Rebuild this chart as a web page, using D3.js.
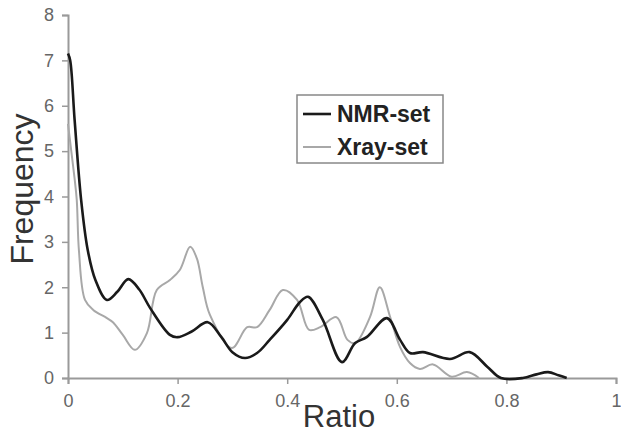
<!DOCTYPE html>
<html>
<head>
<meta charset="utf-8">
<script src="https://cdn.jsdelivr.net/npm/d3@7"></script>
<style>
  html, body { margin: 0; padding: 0; background: #fff; }
  svg { display: block; font-family: "Liberation Sans", Arial, sans-serif; }
</style>
</head>
<body>
<div id="chart"></div>
<script>
// ratio bins
const nmrX = [0, 0.004, 0.012, 0.024, 0.036, 0.05, 0.071, 0.09, 0.11, 0.13, 0.15, 0.186, 0.2, 0.225, 0.255, 0.28, 0.30, 0.323, 0.345, 0.368, 0.40, 0.423, 0.438, 0.465, 0.50, 0.524, 0.545, 0.582, 0.606, 0.624, 0.648, 0.697, 0.733, 0.765, 0.79, 0.83, 0.855, 0.876, 0.895, 0.91];
const nmrY = [7.15, 7.0, 5.7, 3.92, 2.82, 2.16, 1.72, 1.9, 2.18, 1.95, 1.54, 0.95, 0.9, 1.02, 1.23, 0.9, 0.57, 0.44, 0.55, 0.84, 1.28, 1.67, 1.79, 1.28, 0.35, 0.77, 0.9, 1.32, 0.84, 0.55, 0.57, 0.42, 0.57, 0.25, 0, 0, 0.08, 0.13, 0.06, 0];

const xrayX = [0, 0.006, 0.012, 0.016, 0.02, 0.031, 0.046, 0.071, 0.082, 0.1, 0.122, 0.144, 0.162, 0.186, 0.204, 0.223, 0.235, 0.246, 0.259, 0.299, 0.327, 0.345, 0.368, 0.392, 0.418, 0.44, 0.46, 0.49, 0.51, 0.524, 0.551, 0.569, 0.588, 0.606, 0.624, 0.642, 0.666, 0.70, 0.728, 0.75];
const xrayY = [5.6, 5.0, 4.4, 3.92, 2.8, 1.72, 1.5, 1.32, 1.23, 0.95, 0.62, 0.99, 1.94, 2.16, 2.38, 2.89, 2.64, 2.0, 1.39, 0.66, 1.12, 1.12, 1.5, 1.94, 1.72, 1.06, 1.12, 1.34, 0.84, 0.77, 1.34, 2.0, 1.34, 0.68, 0.33, 0.2, 0.3, 0.03, 0.13, 0];

const xTicks = [0, 0.2, 0.4, 0.6, 0.8, 1];
const yTicks = [0, 1, 2, 3, 4, 5, 6, 7, 8];
const seriesNames = ['NMR-set', 'Xray-set'];

const width = 621, height = 433;
const x = d3.scaleLinear().domain([0, 1]).range([68, 616]);
const y = d3.scaleLinear().domain([0, 8]).range([378, 15]);

const svg = d3.select('#chart').append('svg')
    .attr('width', width)
    .attr('height', height);

// Axes
const xAxis = svg.append('g')
    .attr('transform', `translate(0,${y(0)})`)
    .call(d3.axisBottom(x).tickValues(xTicks).tickSize(6).tickPadding(10)
        .tickFormat(d => d === 0 || d === 1 ? d3.format('d')(d) : d3.format('.1f')(d)));

const yAxis = svg.append('g')
    .attr('transform', `translate(${x(0)},0)`)
    .call(d3.axisLeft(y).tickValues(yTicks).tickSize(6).tickPadding(8));

[xAxis, yAxis].forEach(a => {
    a.select('.domain').attr('stroke', '#9a9a9a').attr('stroke-width', 2);
    a.selectAll('.tick line').attr('stroke', '#9a9a9a').attr('stroke-width', 1.5);
    a.selectAll('.tick text')
        .attr('fill', '#666')
        .style('font-size', '18px')
        .style('font-family', '"Liberation Sans", Arial, sans-serif');
});

// Curves (smoothed like the original)
const line = d3.line()
    .x(d => x(d[0]))
    .y(d => Math.min(y(d[1]), y(0)))
    .curve(d3.curveCatmullRom.alpha(0.5));

svg.append('path')
    .datum(xrayX.map((v, i) => [v, xrayY[i]]))
    .attr('fill', 'none')
    .attr('stroke', '#a8a8a8')
    .attr('stroke-width', 2)
    .attr('d', line);

svg.append('path')
    .datum(nmrX.map((v, i) => [v, nmrY[i]]))
    .attr('fill', 'none')
    .attr('stroke', '#1a1a1a')
    .attr('stroke-width', 2.6)
    .attr('d', line);

// Axis titles
svg.append('text')
    .attr('x', 339).attr('y', 427)
    .attr('text-anchor', 'middle')
    .attr('fill', '#333')
    .style('font-size', '31px')
    .text('Ratio');

svg.append('text')
    .attr('transform', 'translate(33,189) rotate(-90)')
    .attr('text-anchor', 'middle')
    .attr('fill', '#333')
    .style('font-size', '32px')
    .text('Frequency');

// Legend
const legend = svg.append('g');
legend.append('rect')
    .attr('x', 297).attr('y', 95)
    .attr('width', 146).attr('height', 68)
    .attr('fill', '#fff')
    .attr('stroke', '#888')
    .attr('stroke-width', 1.5);

const legendColors = ['#1a1a1a', '#a8a8a8'];
seriesNames.forEach((name, i) => {
    const ly = 114 + i * 33;
    legend.append('line')
        .attr('x1', 303).attr('x2', 331)
        .attr('y1', ly).attr('y2', ly)
        .attr('stroke', legendColors[i])
        .attr('stroke-width', i === 0 ? 2.6 : 2);
    legend.append('text')
        .attr('x', 337).attr('y', ly + 8)
        .attr('fill', '#222')
        .style('font-size', '23px')
        .style('font-weight', 'bold')
        .text(name);
});
</script>
</body>
</html>
